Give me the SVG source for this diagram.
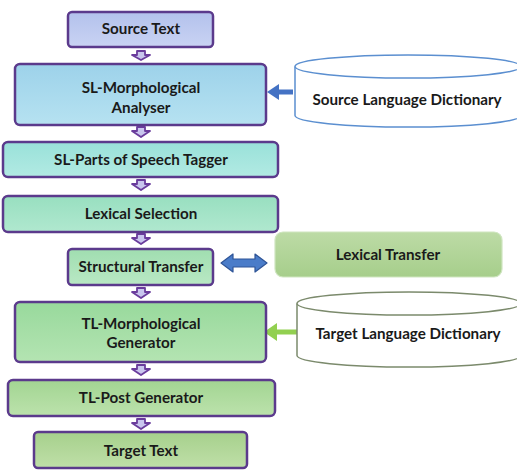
<svg xmlns="http://www.w3.org/2000/svg" width="517" height="470" viewBox="0 0 517 470">
<style>
.box{stroke:#5b3a8c;stroke-width:2.5}
.t{font-family:Lato,"Open Sans","Liberation Sans",sans-serif;font-weight:bold;font-size:15.2px;fill:#1a1a1a;text-anchor:middle}
.down{fill:#c9c6ee;stroke:#6a3c9c;stroke-width:1.8;stroke-linejoin:round}
</style>
<defs>
<linearGradient id="gSrc" x1="0" y1="0" x2="0" y2="1"><stop offset="0" stop-color="#b3c1ec"/><stop offset="1" stop-color="#c9d3f3"/></linearGradient>
<linearGradient id="gSLM" x1="0" y1="0" x2="0" y2="1"><stop offset="0" stop-color="#9dd2ea"/><stop offset="1" stop-color="#b6e2f1"/></linearGradient>
<linearGradient id="gPOS" x1="0" y1="0" x2="0" y2="1"><stop offset="0" stop-color="#99e1d9"/><stop offset="1" stop-color="#b2eae3"/></linearGradient>
<linearGradient id="gLex" x1="0" y1="0" x2="0" y2="1"><stop offset="0" stop-color="#98dfc0"/><stop offset="1" stop-color="#b0e8cf"/></linearGradient>
<linearGradient id="gStr" x1="0" y1="0" x2="0" y2="1"><stop offset="0" stop-color="#a0deb0"/><stop offset="1" stop-color="#b9e8c4"/></linearGradient>
<linearGradient id="gTLM" x1="0" y1="0" x2="0" y2="1"><stop offset="0" stop-color="#98d99c"/><stop offset="1" stop-color="#b4e4b2"/></linearGradient>
<linearGradient id="gPost" x1="0" y1="0" x2="0" y2="1"><stop offset="0" stop-color="#a2d592"/><stop offset="1" stop-color="#bce2ac"/></linearGradient>
<linearGradient id="gTgt" x1="0" y1="0" x2="0" y2="1"><stop offset="0" stop-color="#a6d08c"/><stop offset="1" stop-color="#bfdfa8"/></linearGradient>
<linearGradient id="gLT" x1="0" y1="0" x2="0" y2="1"><stop offset="0" stop-color="#bddba6"/><stop offset="1" stop-color="#a6ce8b"/></linearGradient>
</defs>
<rect width="517" height="470" fill="#ffffff"/>

<g id="connectors">
  <path class="down" d="M137,51 H145 V55 H150 L141,60 L132,55 H137 Z"/>
  <path class="down" d="M137,127 H145 V131 H150 L141,137 L132,131 H137 Z"/>
  <path class="down" d="M137,180 H145 V184 H150 L141,190 L132,184 H137 Z"/>
  <path class="down" d="M137,234 H145 V238 H150 L141,244 L132,238 H137 Z"/>
  <path class="down" d="M137,288 H145 V292 H150 L141,298 L132,292 H137 Z"/>
  <path class="down" d="M137,365 H145 V369 H150 L141,375 L132,369 H137 Z"/>
  <path class="down" d="M137,419 H145 V423 H150 L141,429 L132,423 H137 Z"/>
  <path d="M293,89.5 H279 V84 L267,92 L279,100 V94.5 H293 Z" fill="#4472c4"/>
  <path d="M297,329.5 H277 V323 L264,332 L277,341 V334.5 H297 Z" fill="#92d050"/>
  <path d="M221,263 L233,254 V259 H255 V254 L267,263 L255,272 V267 H233 V272 Z" fill="#4a7cc9" stroke="#2f5597" stroke-width="1.2" stroke-linejoin="round"/>
</g>

<g id="source-text">
  <rect class="box" x="68" y="12" width="145" height="35" rx="4" fill="url(#gSrc)"/>
  <text class="t" x="141" y="34">Source Text</text>
</g>
<g id="sl-morph">
  <rect class="box" x="15" y="64" width="251" height="61" rx="5" fill="url(#gSLM)"/>
  <text class="t" x="141" y="93">SL-Morphological</text>
  <text class="t" x="141" y="113">Analyser</text>
</g>
<g id="sl-pos">
  <rect class="box" x="3" y="142" width="275" height="35" rx="5" fill="url(#gPOS)"/>
  <text class="t" x="141" y="165">SL-Parts of Speech Tagger</text>
</g>
<g id="lexical-selection">
  <rect class="box" x="3" y="196" width="275" height="36" rx="5" fill="url(#gLex)"/>
  <text class="t" x="141" y="219">Lexical Selection</text>
</g>
<g id="structural-transfer">
  <rect class="box" x="68" y="249" width="145" height="36" rx="4" fill="url(#gStr)"/>
  <text class="t" x="141" y="272">Structural Transfer</text>
</g>
<g id="tl-morph">
  <rect class="box" x="15" y="302" width="251" height="60" rx="5" fill="url(#gTLM)"/>
  <text class="t" x="141" y="329">TL-Morphological</text>
  <text class="t" x="141" y="348">Generator</text>
</g>
<g id="tl-post">
  <rect class="box" x="8" y="380" width="267" height="36" rx="5" fill="url(#gPost)"/>
  <text class="t" x="141" y="403">TL-Post Generator</text>
</g>
<g id="target-text">
  <rect class="box" x="34" y="432" width="213" height="36" rx="4" fill="url(#gTgt)"/>
  <text class="t" x="141" y="456">Target Text</text>
</g>

<g id="source-dictionary">
  <path d="M295,66.5 V115.5 A113,11.5 0 0 0 521,115.5 V66.5" fill="#ffffff" stroke="#5b8fd0" stroke-width="1.5"/>
  <ellipse cx="408" cy="66.5" rx="113" ry="11.5" fill="#ffffff" stroke="#5b8fd0" stroke-width="1.5"/>
  <text class="t" x="407" y="105">Source Language Dictionary</text>
</g>
<g id="lexical-transfer">
  <rect x="275" y="232" width="227" height="45" rx="8" fill="url(#gLT)" stroke="#cfe5c0" stroke-width="1.2"/>
  <text class="t" x="388" y="260">Lexical Transfer</text>
</g>
<g id="target-dictionary">
  <path d="M297,303.5 V355.5 A112,11.5 0 0 0 521,355.5 V303.5" fill="#ffffff" stroke="#7b8a6c" stroke-width="1.5"/>
  <ellipse cx="409" cy="303.5" rx="112" ry="11.5" fill="#ffffff" stroke="#7b8a6c" stroke-width="1.5"/>
  <text class="t" x="408" y="339">Target Language Dictionary</text>
</g>
</svg>
